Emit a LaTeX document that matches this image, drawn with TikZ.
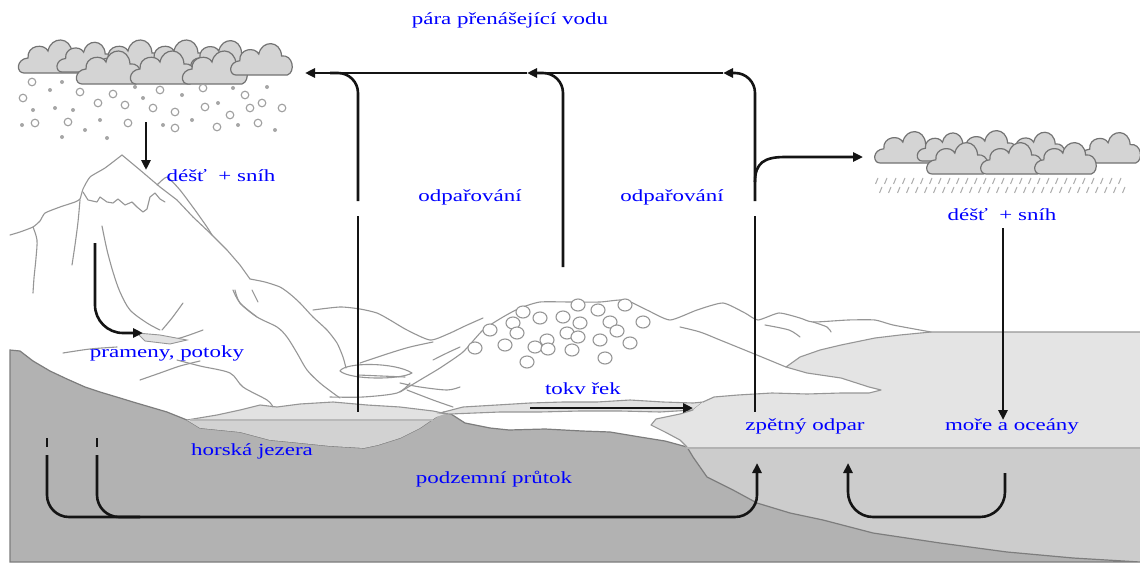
\documentclass[tikz,border=0pt]{standalone}
\usepackage{fontspec}
\usetikzlibrary{arrows.meta}
\newfontfamily\lblfont[FakeStretch=1.35]{Liberation Serif}

\definecolor{groundgray}{RGB}{178,178,178}
\definecolor{groundline}{RGB}{125,125,125}
\definecolor{seatop}{RGB}{228,228,228}
\definecolor{seadeep}{RGB}{204,204,204}
\definecolor{laketop}{RGB}{226,226,226}
\definecolor{lakelow}{RGB}{210,210,210}
\definecolor{ridgegray}{RGB}{150,150,150}
\definecolor{cloudfill}{RGB}{212,212,212}
\definecolor{cloudline}{RGB}{115,115,115}
\definecolor{arrowblack}{RGB}{20,20,20}

\tikzset{
  ridge/.style={draw=ridgegray, line width=1.1pt, line join=round, line cap=round},
  cloudpuff/.style={fill=cloudfill, draw=cloudline, line width=1.2pt},
  flake/.style={draw=gray!75, fill=white, line width=1.1pt},
  flakedot/.style={fill=gray!70},
  rainstreak/.style={draw=gray!65, line width=1pt},
  stone/.style={draw=ridgegray, line width=1.1pt, fill=white},
  thickline/.style={draw=arrowblack, line width=2.6pt},
  flow/.style={thickline, -{Triangle[length=10pt,width=9pt]}},
  lbl/.style={text=blue, font=\lblfont\fontsize{17}{20}\selectfont, inner sep=0pt}
}

% one cumulus puff: bottom-left corner at (#1,#2), scaled by #3
\newcommand\cldpuff[3]{%
  \begin{scope}[shift={(#1,#2)},scale=#3]
    \filldraw[cloudpuff] (0,0) .. controls (-8,0) and (-8,-14) .. (4,-15)
      .. controls (3,-28) and (20,-30) .. (24,-22)
      .. controls (27,-37) and (47,-37) .. (48,-20)
      .. controls (60,-22) and (63,-3) .. (54,0) -- cycle;
  \end{scope}}

\begin{document}
\begin{tikzpicture}[x=1pt,y=-1pt]
\useasboundingbox (0,0) rectangle (1140,562);
\fill[white] (0,0) rectangle (1140,562);

% deep sea water
\fill[seadeep] (687,448) rectangle (1140,562);

% solid ground
\filldraw[fill=groundgray, draw=groundline, line width=1.2pt]
  (10,350) -- (20,351) -- (33,361) -- (50,371) -- (67,379) -- (85,387) -- (100,392)
  -- (120,398) -- (133,402) -- (150,407) -- (167,412) -- (187,420) -- (200,428)
  -- (240,432) -- (270,440) -- (291,442) -- (330,446) -- (364,448) -- (378,445)
  -- (400,438) -- (420,428) -- (436,417) -- (444,412) -- (451,414) -- (465,423)
  -- (490,428) -- (509,430) -- (545,429) -- (582,431) -- (610,432) -- (640,437)
  -- (665,441) -- (687,447) -- (693,457) -- (707,477) -- (733,490) -- (757,503)
  -- (790,513) -- (823,520) -- (873,533) -- (940,543) -- (1007,552) -- (1073,558)
  -- (1140,562) -- (10,562) -- cycle;

% mountain lake
\def\lakepath{(187,420) -- (217,415) -- (240,410) -- (260,405) -- (277,407) -- (300,404)
  -- (333,402) -- (367,405) -- (400,407) -- (433,411) -- (447,414) -- (444,414)
  -- (436,417) -- (420,428) -- (400,438) -- (378,445) -- (364,448) -- (330,446)
  -- (291,442) -- (270,440) -- (240,432) -- (200,428) -- cycle}
\fill[lakelow] \lakepath;
\begin{scope}
  \clip (0,0) rectangle (1140,420);
  \fill[laketop] \lakepath;
\end{scope}
\draw[ridge] (187,420) -- (217,415) -- (240,410) -- (260,405) -- (277,407) -- (300,404)
  -- (333,402) -- (367,405) -- (400,407) -- (433,411) -- (447,414);
\draw[draw=gray!55, line width=1.4pt] (190,420) -- (433,420);

% river
\filldraw[fill=laketop, draw=ridgegray, line width=1.1pt]
  (440,413) -- (463,407) -- (497,405) -- (530,403) -- (563,402) -- (597,402) -- (630,400)
  -- (663,402) -- (693,403) -- (703,402) -- (693,410) -- (660,412) -- (620,411)
  -- (580,411) -- (540,412) -- (500,412) -- (450,414) -- cycle;

% sea surface water
\fill[seatop] (931,332) -- (1140,332) -- (1140,448) -- (687,448) -- (680,440) -- (665,432)
  -- (651,425) -- (656,419) -- (680,414) -- (693,410) -- (703,402) -- (714,397)
  -- (738,395) -- (772,393) -- (807,394) -- (841,393) -- (869,393) -- (881,390)
  -- (869,387) -- (841,378) -- (807,373) -- (786,367) -- (800,357) -- (820,350)
  -- (841,345) -- (875,338) -- (900,335) -- cycle;
\draw[ridge] (687,447) -- (680,440) -- (665,432) -- (651,425) -- (656,419) -- (680,414)
  -- (693,410);
\draw[ridge] (703,402) -- (714,397) -- (738,395) -- (772,393) -- (807,394) -- (841,393)
  -- (869,393) -- (881,390) -- (869,387) -- (841,378) -- (807,373) -- (786,367)
  -- (800,357) -- (820,350) -- (841,345) -- (875,338) -- (900,335) -- (931,332)
  -- (1140,332);
\draw[draw=gray!60, line width=1.6pt] (687,448) -- (1140,448);

% snow-capped mountain
\draw[ridge] plot[smooth, tension=0.3] coordinates {(10,235) (20,232) (33,227) (40,221)
  (45,213) (60,207) (75,202) (80,199) (83,189) (90,177) (105,168) (122,155)};
\draw[ridge] (122,155) -- (140,170) -- (160,187) -- (177,200) -- (193,217) -- (210,233)
  -- (227,250) -- (240,265) -- (250,279);
\draw[ridge] plot[smooth, tension=0.4] coordinates {(250,279) (265,282) (280,287) (290,294)
  (300,303) (313,317) (327,330) (337,343) (343,357) (346,368)};
\draw[ridge] plot[smooth, tension=0.3] coordinates {(157,185) (167,177) (180,190) (195,210)
  (207,227) (212,235)};
\draw[ridge] (83,192) -- (88,200) -- (97,202) -- (100,197) -- (107,202) -- (113,203)
  -- (118,199) -- (125,205) -- (132,202) -- (137,207) -- (143,212) -- (147,209)
  -- (150,197) -- (155,193) -- (160,199) -- (165,202);
\draw[ridge] plot[smooth] coordinates {(33,227) (37,240) (36,258) (34,278) (33,293)};
\draw[ridge] plot[smooth] coordinates {(80,200) (78,222) (75,245) (72,265)};
\draw[ridge] plot[smooth] coordinates {(102,226) (107,250) (113,272) (120,292) (130,310)
  (147,323) (160,330)};
\draw[ridge] plot[smooth] coordinates {(183,303) (172,318) (162,330)};
\draw[ridge] plot[smooth] coordinates {(203,330) (180,338) (157,342)};
\filldraw[fill=laketop, draw=ridgegray, line width=0.9pt]
  (137,333) -- (160,335) -- (187,340) -- (170,344) -- (145,341) -- cycle;
\draw[ridge] plot[smooth] coordinates {(63,353) (90,349) (117,347)};
\draw[ridge] plot[smooth] coordinates {(140,380) (160,373) (180,366) (200,361)};
\draw[ridge] plot[smooth] coordinates {(177,360) (200,366) (230,373) (243,387) (267,400)
  (273,407)};
\draw[ridge] plot[smooth] coordinates {(235,290) (240,303) (257,317) (277,327) (287,337)
  (297,353) (307,370) (320,383) (333,393) (340,398)};
\draw[ridge] (252,290) -- (258,302);
\draw[ridge] plot[smooth] coordinates {(233,290) (240,303) (257,317)};

% ridge behind the stony hill
\draw[ridge] plot[smooth, tension=0.4] coordinates {(313,310) (340,307) (360,309) (377,313)
  (390,320) (407,330) (430,340) (448,334) (465,326) (483,318)};
\draw[ridge] plot[smooth] coordinates {(360,363) (390,353) (410,347) (433,342)};
\draw[ridge] plot[smooth] coordinates {(433,360) (447,353) (460,347)};
\draw[ridge] (340,371) .. controls (345,362) and (395,362) .. (412,373)
  .. controls (400,380) and (350,380) .. (340,371) -- cycle;
\draw[ridge] (358,375) -- (405,377);
\draw[ridge] plot[smooth] coordinates {(400,383) (420,387) (447,390) (460,387)};
\draw[ridge] plot[smooth] coordinates {(407,390) (433,400) (453,407)};
\draw[ridge] plot[smooth] coordinates {(330,397) (363,397) (397,393) (410,383)};

% stony hill and the coast behind it
\draw[ridge] plot[smooth, tension=0.35] coordinates {(400,392) (420,380) (440,368) (463,352)
  (483,330) (503,317) (520,308) (540,302) (570,302) (600,302) (625,300) (647,310)
  (670,320) (697,310) (723,303) (745,313) (758,320) (779,313) (800,318) (813,322)
  (848,320) (875,320) (893,325) (931,332)};
\draw[ridge] plot[smooth] coordinates {(680,327) (700,332) (720,340) (752,353) (786,367)};
\draw[ridge] plot[smooth] coordinates {(765,325) (789,330) (800,337)};
\draw[ridge] plot[smooth] coordinates {(813,322) (827,327) (831,332)};
\foreach \sx/\sy in {523/312,540/318,563/317,578/305,598/310,625/305,490/330,513/323,
  517/333,547/340,567/333,580/323,610/322,617/331,643/322,475/348,505/345,535/347,
  548/349,578/337,600/340,630/343,527/362,572/350,605/358}
  \filldraw[stone] (\sx,\sy) ellipse (7 and 6);

% snow cloud
\cldpuff{24}{73}{1}
\cldpuff{62}{72}{0.9}
\cldpuff{104}{73}{1}
\cldpuff{150}{73}{1}
\cldpuff{196}{72}{0.95}
\cldpuff{82}{84}{1}
\cldpuff{136}{84}{1}
\cldpuff{188}{84}{1}
\cldpuff{236}{75}{0.95}
\foreach \fx/\fy in {32/82,80/92,113/94,160/90,203/88,245/95,23/98,98/103,125/105,
  153/108,175/112,205/107,230/115,250/108,262/103,282/108,35/123,68/122,128/123,
  175/128,217/127,258/123}
  \filldraw[flake] (\fx,\fy) circle (3.8);
\foreach \fx/\fy in {62/82,50/90,135/87,182/95,233/88,267/87,33/110,55/108,73/110,
  143/98,192/120,218/103,22/125,85/130,100/120,107/138,163/125,238/125,275/130,62/137}
  \fill[flakedot] (\fx,\fy) circle (2);

% rain cloud
\cldpuff{880}{163}{0.95}
\cldpuff{922}{161}{0.85}
\cldpuff{962}{162}{0.95}
\cldpuff{1012}{162}{0.9}
\cldpuff{1086}{163}{0.92}
\cldpuff{932}{174}{0.95}
\cldpuff{986}{174}{0.95}
\cldpuff{1040}{174}{0.95}
\foreach \rx in {878,887,...,1128} {
  \draw[rainstreak] (\rx,178) -- ++(-2.5,6);
  \draw[rainstreak] (\rx+4,187) -- ++(-2.5,6);
}

% arrow end points
\coordinate (snowTop) at (146,122);
\coordinate (snowEnd) at (146,170);
\coordinate (springTop) at (95,243);
\coordinate (springEnd) at (143,333);
\coordinate (vapA) at (723,73);
\coordinate (vapB) at (527,73);
\coordinate (vapC) at (305,73);
\coordinate (evapL) at (358,201);
\coordinate (evapLlow) at (358,216);
\coordinate (evapLbot) at (358,412);
\coordinate (evapM) at (563,267);
\coordinate (evapR) at (755,201);
\coordinate (evapRlow) at (755,216);
\coordinate (evapRbot) at (755,412);
\coordinate (toCloud) at (863,157);
\coordinate (rainTop) at (1003,228);
\coordinate (rainEnd) at (1003,420);
\coordinate (riverA) at (530,408);
\coordinate (riverB) at (693,408);
\coordinate (ugA) at (47,455);
\coordinate (ugB) at (97,455);
\coordinate (ugEnd) at (757,463);
\coordinate (seaTop) at (1005,473);
\coordinate (seaEnd) at (848,463);

% water transport arrows
\draw[flow] (snowTop) -- (snowEnd);
\draw[flow, rounded corners=28pt] (springTop) |- (springEnd);
\draw[flow, rounded corners=20pt] (evapR) |- (vapA);
\draw[flow] (vapA) -- (vapB);
\draw[flow] (vapB) -- (vapC);
\draw[thickline, rounded corners=20pt] (evapL) |- (330,73);
\draw[thickline, rounded corners=20pt] (evapM) |- (537,73);
\draw[thickline] (evapLlow) -- (evapLbot);
\draw[thickline] (evapRlow) -- (evapRbot);
\draw[flow] (755,182) .. controls (755,163) and (764,157) .. (785,157) -- (toCloud);
\draw[flow] (rainTop) -- (rainEnd);
\draw[flow] (riverA) -- (riverB);
\draw[thickline] (47,438) -- (47,447);
\draw[thickline] (97,438) -- (97,447);
\draw[flow, rounded corners=22pt] (ugA) |- (757,517) -- (ugEnd);
\draw[thickline, rounded corners=22pt] (ugB) |- (140,517);
\draw[flow, rounded corners=25pt] (seaTop) |- (848,517) -- (seaEnd);

% labels
\node[lbl] (tVapour) at (510,20) {pára přenášející vodu};
\node[lbl] (tSnowL) at (221,176) {déšť~~+ sníh};
\node[lbl] (tEvapL) at (470,197) {odpařování};
\node[lbl] (tEvapR) at (672,197) {odpařování};
\node[lbl] (tSnowR) at (1002,215) {déšť~~+ sníh};
\node[lbl] (tSprings) at (167,353) {prameny, potoky};
\node[lbl] (tRiver) at (583,389) {tokv řek};
\node[lbl] (tLakes) at (252,451) {horská jezera};
\node[lbl] (tUnder) at (494,479) {podzemní průtok};
\node[lbl] (tBack) at (805,426) {zpětný odpar};
\node[lbl] (tSea) at (1012,426) {moře a oceány};
\end{tikzpicture}
\end{document}
